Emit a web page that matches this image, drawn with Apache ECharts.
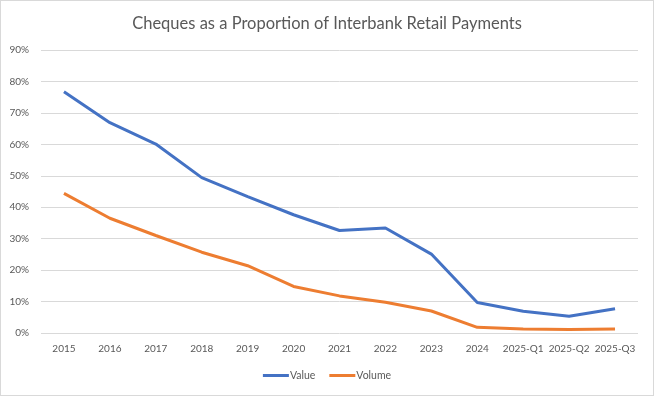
<!DOCTYPE html>
<html><head><meta charset="utf-8">
<script src="https://cdn.jsdelivr.net/npm/echarts@6/dist/echarts.min.js"></script>
<style>html,body{margin:0;padding:0;background:#fff}#c{width:654px;height:396px;box-sizing:border-box;border:1px solid #d9d9d9}</style>
</head><body><div id="c"></div>
<script>
const categories = ['2015','2016','2017','2018','2019','2020','2021','2022','2023','2024','2025-Q1','2025-Q2','2025-Q3'];
const valueSeries = [76.7, 66.9, 60.1, 49.4, 43.4, 37.6, 32.6, 33.4, 25.1, 9.7, 6.9, 5.3, 7.7];
const volumeSeries = [44.4, 36.5, 31.0, 25.7, 21.4, 14.8, 11.8, 9.8, 7.0, 1.8, 1.3, 1.1, 1.3];
const yTicks = [0, 10, 20, 30, 40, 50, 60, 70, 80, 90];

const chart = echarts.init(document.getElementById('c'), null, {renderer: 'canvas'});
const font = 'Lato, "Open Sans", sans-serif';
chart.setOption({
  animation: false,
  title: {
    text: 'Cheques as a Proportion of Interbank Retail Payments',
    left: 'center', top: 9,
    textStyle: {fontFamily: font, fontSize: 16.5, fontWeight: 'normal', color: '#595959'}
  },
  legend: {
    bottom: 9, left: 'center',
    itemWidth: 26, itemHeight: 3, itemGap: 14,
    icon: 'rect',
    textStyle: {fontFamily: font, fontSize: 10.5, color: '#595959', padding: [0,0,0,-4]},
    data: ['Value', 'Volume']
  },
  grid: {left: 40, right: 15, top: 49, bottom: 62, containLabel: false},
  xAxis: {
    type: 'category', data: categories, boundaryGap: true,
    axisLine: {show: false}, axisTick: {show: false},
    axisLabel: {fontFamily: font, fontSize: 10, color: '#595959', margin: 11, interval: 0}
  },
  yAxis: {
    type: 'value', min: yTicks[0], max: yTicks[yTicks.length-1], interval: 10,
    axisLine: {show: false}, axisTick: {show: false},
    splitLine: {lineStyle: {color: '#d9d9d9', width: 1}},
    axisLabel: {fontFamily: font, fontSize: 10, color: '#595959', margin: 12, formatter: v => v + '%'}
  },
  series: [
    {name: 'Value', type: 'line', data: valueSeries, symbol: 'none',
     lineStyle: {color: '#4472C4', width: 3}, itemStyle: {color: '#4472C4'}},
    {name: 'Volume', type: 'line', data: volumeSeries, symbol: 'none',
     lineStyle: {color: '#ED7D31', width: 3}, itemStyle: {color: '#ED7D31'}}
  ]
});
</script></body></html>
